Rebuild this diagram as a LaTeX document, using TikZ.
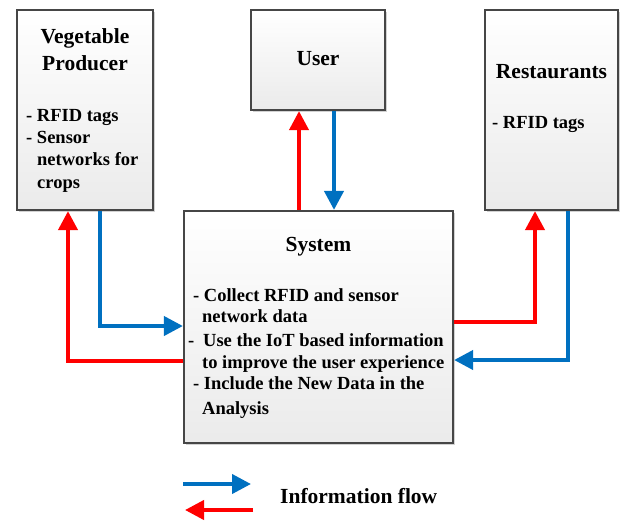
\documentclass[tikz,border=0pt]{standalone}
\usepackage{fontspec}
\setmainfont{Liberation Serif}
\usetikzlibrary{arrows.meta,shadows}
\definecolor{flowred}{RGB}{255,0,0}
\definecolor{flowblue}{RGB}{0,112,192}
\definecolor{boxline}{RGB}{70,70,70}
\begin{document}
\begin{tikzpicture}[x=1pt,y=-1pt,
  box/.style={draw=boxline, line width=2.2pt, top color=white, bottom color=gray!16,
    drop shadow={shadow xshift=1.5pt, shadow yshift=-1.5pt, fill=gray!70, opacity=.5}},
  title/.style={font=\fontsize{21.5}{24}\selectfont\bfseries, inner sep=0pt},
  body/.style={font=\fontsize{18.5}{22}\selectfont\bfseries, anchor=base west, inner sep=0pt},
  flow/.style={line width=4pt, -{Triangle[length=19pt,width=19pt]}},
  redflow/.style={flow, draw=flowred},
  blueflow/.style={flow, draw=flowblue}]
\useasboundingbox (0,0) rectangle (623,520);

% boxes
\node[box, minimum width=136pt, minimum height=200pt] (veg) at (85,110) {};
\node[box, minimum width=134pt, minimum height=100pt] (user) at (318,60) {};
\node[box, minimum width=133pt, minimum height=200pt] (rest) at (551.5,110) {};
\node[box, minimum width=269pt, minimum height=232pt] (sys) at (318.5,327) {};

% vegetable producer text
\node[title, anchor=base] (vegt1) at (85,43) {Vegetable};
\node[title, anchor=base] (vegt2) at (85,70) {Producer};
\node[body] (vegb1) at (26,121) {- RFID tags};
\node[body] (vegb2) at (26,143) {- Sensor};
\node[body] (vegb3) at (37,165) {networks for};
\node[body] (vegb4) at (37,188) {crops};

% user text
\node[title, anchor=base] (usert) at (318,65) {User};

% restaurants text
\node[title, anchor=base] (restt) at (551.5,78) {Restaurants};
\node[body] (restb1) at (492,128) {- RFID tags};

% system text
\node[title, anchor=base] (syst) at (318.5,251) {System};
\node[body] (sysb1) at (193,301) {- Collect RFID and sensor};
\node[body] (sysb2) at (202,322) {network data};
\node[body] (sysb3) at (188,346) {\makebox[15pt][l]{-}Use the IoT based information};
\node[body] (sysb4) at (202,368) {to improve the user experience};
\node[body] (sysb5) at (193,389) {- Include the New Data in the};
\node[body] (sysb6) at (202,414) {Analysis};

% flows
\draw[blueflow] (veg.south -| 100,0) |- (sys.west |- 0,326);
\draw[redflow] (sys.west |- 0,361) -| (veg.south -| 68,0);
\draw[redflow] (sys.north -| 299,0) -- (user.south -| 299,0);
\draw[blueflow] (user.south -| 334,0) -- (sys.north -| 334,0);
\draw[redflow] (sys.east |- 0,322) -| (rest.south -| 535,0);
\draw[blueflow] (rest.south -| 568,0) |- (sys.east |- 0,360);

% legend
\coordinate (lb1) at (183,484);
\coordinate (lb2) at (251,484);
\coordinate (lr1) at (253,510);
\coordinate (lr2) at (185,510);
\draw[blueflow] (lb1) -- (lb2);
\draw[redflow] (lr1) -- (lr2);
\node[title, anchor=base west] (legend) at (280,503) {Information flow};
\end{tikzpicture}
\end{document}
